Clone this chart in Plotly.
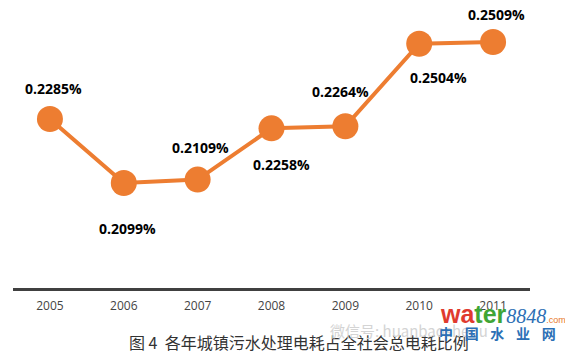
import plotly.graph_objects as go

years = ["2005", "2006", "2007", "2008", "2009", "2010", "2011"]
values = [0.2285, 0.2099, 0.2109, 0.2258, 0.2264, 0.2504, 0.2509]
labels = ["0.2285%", "0.2099%", "0.2109%", "0.2258%", "0.2264%", "0.2504%", "0.2509%"]
label_dx = [4, 4, 3, 10, -5, 19, 3]
label_dy = [-31, 45, -32, 36, -35, 34, -27]
title = "图 4  各年城镇污水处理电耗占全社会总电耗比例"

ORANGE = "#ED7D31"
fig = go.Figure()
fig.add_trace(go.Scatter(
    x=years, y=values, mode="lines+markers",
    line=dict(color=ORANGE, width=4),
    marker=dict(color=ORANGE, size=26),
    hoverinfo="skip", cliponaxis=False,
))
annotations = []
for i, (v, t, dx, dy) in enumerate(zip(values, labels, label_dx, label_dy)):
    annotations.append(dict(xref="x", yref="y", x=i, y=v, text=f"<b>{t}</b>", showarrow=False,
                            xshift=dx, yshift=-dy,
                            font=dict(family="Open Sans", size=14, color="#000")))
annotations.append(dict(xref="paper", yref="paper", x=0, y=0, xanchor="center", yanchor="middle",
                        xshift=286, yshift=-54, text=title, showarrow=False,
                        font=dict(family="Noto Sans CJK SC", size=16, color="#333")))
annotations.append(dict(xref="paper", yref="paper", x=0, y=0, xanchor="left", yanchor="middle",
                        xshift=315, yshift=-42,
                        text="<span style='color:#d4d4d4'>微信号: huanbaoshequ</span>", showarrow=False,
                        font=dict(family="Noto Sans CJK SC", size=15)))
annotations.append(dict(xref="paper", yref="paper", x=0, y=0, xanchor="left", yanchor="middle",
                        xshift=425, yshift=-26,
                        text="<b><span style='color:#E03A2E'>wa</span><span style='color:#3FA535'>ter</span></b>"
                             "<i><span style='color:#2B6FB5;font-size:20px;font-family:Liberation Serif'>8848</span></i>"
                             "<span style='color:#E8792B;font-size:9px'>.com</span>",
                        showarrow=False, font=dict(family="Liberation Sans", size=25)))
annotations.append(dict(xref="paper", yref="paper", x=0, y=0, xanchor="left", yanchor="middle",
                        xshift=424, yshift=-45,
                        text="<b>中\u2002\u2004国\u2002\u2004水\u2002\u2004业\u2002\u2004网</b>", showarrow=False,
                        font=dict(family="Noto Sans CJK SC", size=14, color="#2B6FB5")))

fig.update_layout(
    width=565, height=351,
    margin=dict(l=13, r=35, t=0, b=63),
    paper_bgcolor="white", plot_bgcolor="white",
    showlegend=False, annotations=annotations,
    xaxis=dict(type="category", range=[-0.5, 6.5], showgrid=False, showline=True,
               linecolor="#404040", linewidth=3, ticks="", ticklabelstandoff=5,
               tickfont=dict(family="Open Sans", size=12, color="#444")),
    yaxis=dict(range=[0.1794, 0.2631], visible=False, showgrid=False),
)
fig.write_html("out.html", config=dict(displayModeBar=False),
               post_script="document.body.style.margin='0';document.documentElement.style.overflow='hidden';")
